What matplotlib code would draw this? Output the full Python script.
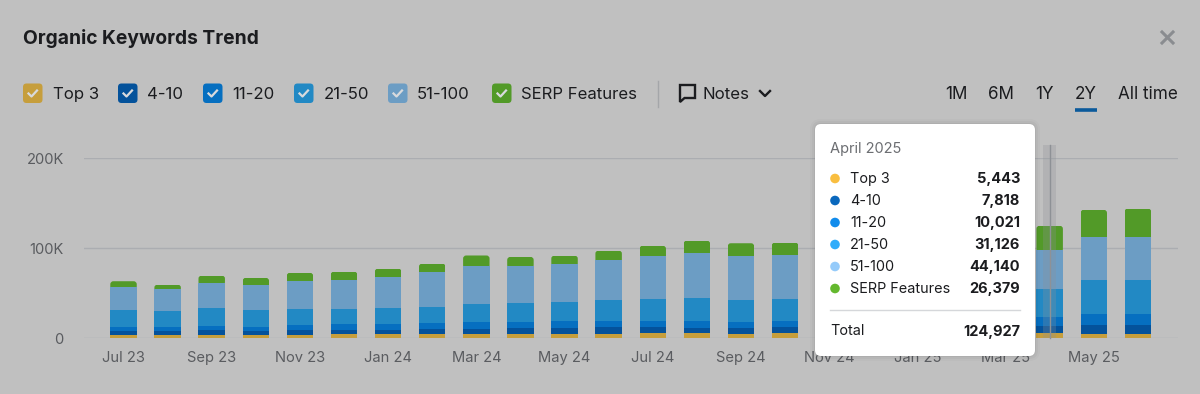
import matplotlib
matplotlib.use('Agg')
import matplotlib.pyplot as plt
from matplotlib.patches import FancyBboxPatch, Polygon, Circle

plt.rcParams['font.family'] = ['Inter', 'DejaVu Sans']

# Values in thousands, Jul 23 to Jun 25
top3 = [3.3, 3.7, 4.1, 3.3, 4.1, 4.4, 4.4, 4.8, 4.8, 4.4, 4.8, 5.2, 5.6, 5.9, 5.2, 5.6,
        5.4, 5.4, 5.5, 5.5, 5.4, 5.443, 5.2, 5.2]
kw_4_10 = [5.2, 4.8, 5.2, 4.8, 4.8, 4.4, 5.2, 5.9, 5.9, 6.7, 6.3, 6.7, 6.3, 5.9, 5.9, 6.3,
           6.5, 6.6, 6.9, 7.2, 7.5, 7.818, 9.3, 9.3]
kw_11_20 = [4.4, 4.4, 4.8, 4.8, 5.6, 6.7, 6.7, 6.7, 7.8, 7.4, 8.1, 7.0, 7.0, 7.0, 6.7, 6.7,
            7.2, 7.6, 8.2, 8.8, 9.4, 10.021, 11.9, 12.2]
kw_21_50 = [18.5, 17.8, 19.6, 18.9, 17.4, 17.4, 17.4, 17.8, 20.0, 20.7, 20.7, 23.7, 25.2, 25.6, 24.4, 24.8,
            25.0, 25.6, 26.8, 28.2, 29.6, 31.126, 38.1, 38.5]
kw_51_100 = [25.2, 23.7, 28.1, 27.4, 32.2, 32.2, 34.8, 38.1, 41.9, 41.5, 42.6, 44.1, 46.7, 50.7, 48.9, 48.5,
             47.5, 46.8, 45.8, 45.2, 44.6, 44.140, 47.4, 47.8]
serp = [6.7, 5.2, 7.8, 7.8, 8.5, 8.9, 8.9, 9.6, 11.5, 9.6, 9.3, 10.7, 11.9, 13.3, 14.4, 14.4,
        15.5, 17.0, 18.6, 21.0, 23.5, 26.379, 30.7, 31.1]

series = [top3, kw_4_10, kw_11_20, kw_21_50, kw_51_100, serp]
names = ['Top 3', '4-10', '11-20', '21-50', '51-100', 'SERP Features']
bar_colors = ['#C69E3C', '#04529B', '#066FC0', '#2289C4', '#6C9DC4', '#529A28']
dot_colors = ['#F9BE3F', '#0A68BD', '#118CEC', '#2FACFA', '#95CBFA', '#64B82E']
legend_x = [23, 118, 203, 294, 388, 492]
legend_text_x = [53, 147, 232, 323.5, 417, 521]

tick_idx = list(range(0, 24, 2))
tick_labels = ['Jul 23', 'Sep 23', 'Nov 23', 'Jan 24', 'Mar 24', 'May 24',
               'Jul 24', 'Sep 24', 'Nov 24', 'Jan 25', 'Mar 25', 'May 25']
y_ticks = [0, 100, 200]
y_labels = ['0', '100K', '200K']
ranges = ['1M', '6M', '1Y', '2Y', 'All time']
range_x = [956.5, 1000.5, 1044, 1086, 1147.5]
hover_idx = 21

BG = '#C0C0C0'
DARK = '#1B1C1F'
GREY = '#5A5C60'

fig = plt.figure(figsize=(12, 3.94), dpi=100, facecolor=BG)

# main chart, x is the bar index
ax = fig.add_axes([84 / 1200, (394 - 338.2) / 394, (1178 - 84) / 1200, 180 / 394])
ax.set_facecolor('none')
ax.set_xlim(-0.896, 23.91)
ax.set_ylim(0, 200)
for s in ax.spines.values():
    s.set_visible(False)
ax.set_yticks(y_ticks)
ax.set_yticklabels(y_labels, fontsize=10.6, color=GREY)
ax.set_xticks(tick_idx)
ax.set_xticklabels(tick_labels, fontsize=10.6, color=GREY)
ax.tick_params(axis='both', length=0)
ax.tick_params(axis='y', pad=14.5)
ax.tick_params(axis='x', pad=9)
ax.grid(axis='y', color='#ABADB1', linewidth=1)
ax.set_axisbelow(True)

# stacked bars
x = list(range(24))
bottom = [0] * 24
for vals, col in zip(series, bar_colors):
    bars = ax.bar(x, vals, width=0.6, bottom=bottom, color=col, linewidth=0, zorder=2)
    bottom = [b + v for b, v in zip(bottom, vals)]
# round the top corners of the stacks
for bar in bars:
    clip = FancyBboxPatch((bar.get_x(), bar.get_y() - 3), bar.get_width(), bar.get_height() + 3,
                          boxstyle='round,pad=0,rounding_size=0.07', mutation_aspect=49,
                          transform=ax.transData)
    bar.set_clip_path(clip)

# hover band over April 2025
ax.bar(hover_idx, 215, width=0.3, color='#8E9196', alpha=0.28, linewidth=0, zorder=3, clip_on=False)
ax.plot([hover_idx, hover_idx], [0, 215], color='#8E9196', linewidth=1, zorder=3, clip_on=False)

# everything else in pixel coordinates
ov = fig.add_axes([0, 0, 1, 1], zorder=5)
ov.set_xlim(0, 1200)
ov.set_ylim(394, 0)
ov.axis('off')

ov.text(23, 38.5, 'Organic Keywords Trend', fontsize=13.85, fontweight='bold', color=DARK, va='center')
ov.plot([1162, 1173], [32, 43], color='#8A8C90', linewidth=2.2)
ov.plot([1162, 1173], [43, 32], color='#8A8C90', linewidth=2.2)

# legend checkboxes
for lx, tx, name, col in zip(legend_x, legend_text_x, names, bar_colors):
    ov.add_patch(FancyBboxPatch((lx, 83.5), 19.5, 19.5, boxstyle='round,pad=0,rounding_size=3.5',
                                facecolor=col, edgecolor='none'))
    ov.plot([lx + 5.5, lx + 8.5, lx + 14], [93.5, 96.5, 90.5], color='#D8DADD', linewidth=1.6)
    ov.text(tx, 94.5, name, fontsize=12.05, color=DARK, va='center')

ov.plot([658, 658], [81, 107], color='#A4A6A9', linewidth=1)

# notes button
ov.add_patch(Polygon([(680, 85), (695, 85), (695, 98), (684.5, 98), (680, 102)], closed=True,
                     facecolor='none', edgecolor=DARK, linewidth=1.7))
ov.text(703, 94.5, 'Notes', fontsize=12.1, color=DARK, va='center')
ov.plot([760, 765, 770], [91, 96, 91], color=DARK, linewidth=1.7)

# range selector
for rx, label in zip(range_x, ranges):
    ov.text(rx, 94.5, label, fontsize=12.3, color=DARK, va='center', ha='center')
ov.plot([1075, 1097], [110, 110], color='#0B5A9B', linewidth=2.6, solid_capstyle='butt')

# tooltip
for grow, alpha in zip([5, 3, 1], [0.02, 0.03, 0.04]):
    ov.add_patch(FancyBboxPatch((815 - grow, 124 - grow), 220 + 2 * grow, 232 + 2 * grow,
                                boxstyle='round,pad=0,rounding_size=%d' % (6 + grow),
                                facecolor='black', edgecolor='none', alpha=alpha))
ov.add_patch(FancyBboxPatch((815, 124), 220, 232, boxstyle='round,pad=0,rounding_size=6',
                            facecolor='white', edgecolor='none'))
ov.text(830, 148.8, 'April 2025', fontsize=10.5, color='#6C6E72', va='center')
for i, (name, col, vals) in enumerate(zip(names, dot_colors, series)):
    row_y = 178.5 + i * 22
    ov.add_patch(Circle((835, row_y), 4.8, facecolor=col, edgecolor='none'))
    ov.text(850, row_y + 0.8, name, fontsize=10.4, color=DARK, va='center')
    ov.text(1020, row_y + 0.8, f'{round(vals[hover_idx] * 1000):,}', fontsize=10.5, fontweight='bold',
            color=DARK, va='center', ha='right')
ov.plot([830, 1020], [310, 310], color='#D5D7DA', linewidth=1)
ov.text(830, 330.8, 'Total', fontsize=10.4, color=DARK, va='center')
total = sum(round(vals[hover_idx] * 1000) for vals in series)
ov.text(1020, 331.8, f'{total:,}', fontsize=10.5, fontweight='bold', color=DARK, va='center', ha='right')

fig.savefig('out.png', dpi=100, facecolor=BG)
